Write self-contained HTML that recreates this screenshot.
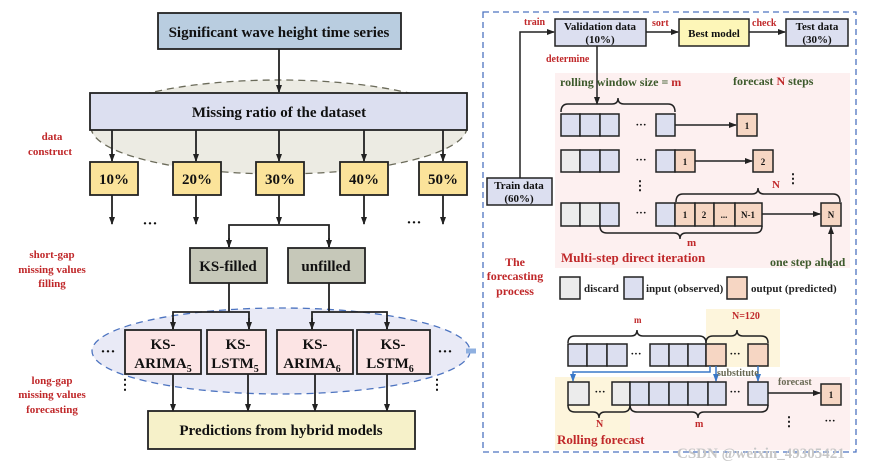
<!DOCTYPE html>
<html><head><meta charset="utf-8"><style>
html,body{margin:0;padding:0;background:#fff;}
svg{display:block;}
text{font-family:"Liberation Serif",serif;font-weight:bold;}
</style></head><body>
<svg width="876" height="464" viewBox="0 0 876 464" xmlns="http://www.w3.org/2000/svg">
<defs>
<marker id="a" markerWidth="8" markerHeight="8" refX="7" refY="4" orient="auto" markerUnits="userSpaceOnUse"><path d="M0,1 L8,4 L0,7 Z" fill="#222"/></marker>
<marker id="b" markerWidth="8" markerHeight="8" refX="7" refY="4" orient="auto" markerUnits="userSpaceOnUse"><path d="M0,1 L8,4 L0,7 Z" fill="#3a78c8"/></marker>
</defs>
<g stroke="#222" stroke-width="1.8" fill="none">
<ellipse cx="279" cy="127" rx="188" ry="47" fill="#ecebe3" stroke="#6b6b5a" stroke-dasharray="7,5" stroke-width="1.3"/>
<rect x="158" y="13" width="243" height="36" fill="#b9cde0"/>
<line x1="279" y1="49" x2="279" y2="92" marker-end="url(#a)"/>
<rect x="90" y="93" width="377" height="37" fill="#dcdff0"/>
<line x1="112" y1="130" x2="112" y2="161" marker-end="url(#a)"/>
<line x1="196" y1="130" x2="196" y2="161" marker-end="url(#a)"/>
<line x1="279" y1="130" x2="279" y2="161" marker-end="url(#a)"/>
<line x1="364" y1="130" x2="364" y2="161" marker-end="url(#a)"/>
<line x1="443" y1="130" x2="443" y2="161" marker-end="url(#a)"/>
<rect x="90" y="162" width="48" height="33" fill="#fbe39a"/>
<rect x="173" y="162" width="48" height="33" fill="#fbe39a"/>
<rect x="256" y="162" width="48" height="33" fill="#fbe39a"/>
<rect x="340" y="162" width="48" height="33" fill="#fbe39a"/>
<rect x="419" y="162" width="48" height="33" fill="#fbe39a"/>
<line x1="112" y1="195" x2="112" y2="224" marker-end="url(#a)"/>
<line x1="196" y1="195" x2="196" y2="224" marker-end="url(#a)"/>
<line x1="364" y1="195" x2="364" y2="224" marker-end="url(#a)"/>
<line x1="443" y1="195" x2="443" y2="224" marker-end="url(#a)"/>
<line x1="279" y1="195" x2="279" y2="224" marker-end="url(#a)"/>
<path d="M229,247 V225 H329 V247"/>
<line x1="229" y1="238" x2="229" y2="247" marker-end="url(#a)"/>
<line x1="329" y1="238" x2="329" y2="247" marker-end="url(#a)"/>
<rect x="190" y="248" width="77" height="35" fill="#c6c8b9"/>
<rect x="288" y="248" width="77" height="35" fill="#c6c8b9"/>
<ellipse cx="281" cy="351" rx="189" ry="43" fill="#e9eaf6" stroke="#4d74c0" stroke-dasharray="7,5" stroke-width="1.3"/>
<path d="M229,283 V312 M173,329 V312 H249 V329"/>
<path d="M329,283 V312 M312,329 V312 H387 V329"/>
<line x1="173" y1="318" x2="173" y2="329" marker-end="url(#a)"/>
<line x1="249" y1="318" x2="249" y2="329" marker-end="url(#a)"/>
<line x1="312" y1="318" x2="312" y2="329" marker-end="url(#a)"/>
<line x1="387" y1="318" x2="387" y2="329" marker-end="url(#a)"/>
<rect x="125" y="330" width="76" height="44" fill="#fce4e4"/>
<rect x="207" y="330" width="59" height="44" fill="#fce4e4"/>
<rect x="277" y="330" width="76" height="44" fill="#fce4e4"/>
<rect x="357" y="330" width="73" height="44" fill="#fce4e4"/>
<line x1="173" y1="374" x2="173" y2="411" marker-end="url(#a)"/>
<line x1="248" y1="374" x2="248" y2="411" marker-end="url(#a)"/>
<line x1="315" y1="374" x2="315" y2="411" marker-end="url(#a)"/>
<line x1="387" y1="374" x2="387" y2="411" marker-end="url(#a)"/>
<rect x="148" y="411" width="267" height="38" fill="#f6f1c9"/>
<path d="M466,351 H476" stroke="#8fb0e0" stroke-width="5"/>
</g>
<g fill="#111" font-size="15" text-anchor="middle">
<text x="279" y="37" font-size="15">Significant wave height time series</text>
<text x="279" y="117" font-size="15">Missing ratio of the dataset</text>
<text x="114" y="184">10%</text><text x="197" y="184">20%</text><text x="280" y="184">30%</text><text x="364" y="184">40%</text><text x="443" y="184">50%</text>
<text x="150" y="228">···</text><text x="414" y="227">···</text>
<text x="228" y="271">KS-filled</text><text x="326" y="271">unfilled</text>
<text x="163" y="349">KS-</text><text x="163" y="368">ARIMA<tspan font-size="10" dy="4">5</tspan></text>
<text x="238" y="349">KS-</text><text x="235" y="368">LSTM<tspan font-size="10" dy="4">5</tspan></text>
<text x="315" y="349">KS-</text><text x="312" y="368">ARIMA<tspan font-size="10" dy="4">6</tspan></text>
<text x="393" y="349">KS-</text><text x="390" y="368">LSTM<tspan font-size="10" dy="4">6</tspan></text>
<text x="108" y="356">···</text><text x="445" y="356">···</text>
<text x="281" y="435">Predictions from  hybrid models</text>
</g>
<g fill="#111" font-size="14">
<text x="125" y="389" text-anchor="middle">⋮</text><text x="437" y="389" text-anchor="middle">⋮</text>
</g>
<g fill="#c0282a" font-size="11" text-anchor="middle">
<text x="52" y="140">data</text><text x="50" y="155">construct</text>
<text x="52" y="258">short-gap</text><text x="52" y="273">missing values</text><text x="52" y="287">filling</text>
<text x="52" y="384">long-gap</text><text x="52" y="398">missing values</text><text x="52" y="413">forecasting</text>
</g>

<rect x="483" y="12" width="373" height="440" fill="none" stroke="#4d74c0" stroke-width="1.3" stroke-dasharray="6,4"/>
<rect x="555" y="73" width="295" height="195" fill="#fdf0f0"/>
<rect x="706" y="309" width="74" height="58" fill="#fdf5dc"/>
<rect x="555" y="377" width="75" height="73" fill="#fdf5dc"/>
<rect x="630" y="377" width="220" height="73" fill="#fdf0f0"/>
<g stroke="#222" stroke-width="1.5" fill="none">
<rect x="555" y="19" width="91" height="27" fill="#dcdff0"/>
<rect x="679" y="19" width="70" height="27" fill="#fdf6b8"/>
<rect x="786" y="19" width="62" height="27" fill="#dcdff0"/>
<rect x="487" y="178" width="65" height="27" fill="#dcdff0"/>
<path d="M520,178 V32 H554" marker-end="url(#a)"/>
<line x1="646" y1="32" x2="678" y2="32" marker-end="url(#a)"/>
<line x1="749" y1="32" x2="785" y2="32" marker-end="url(#a)"/>
<line x1="597" y1="46" x2="597" y2="104" marker-end="url(#a)"/>
<path d="M561,112 Q561,104 568,104 L612,104 Q618,104 618,98 Q618,104 624,104 L668,104 Q675,104 675,112"/>
<g fill="#dcdff0"><rect x="561" y="114" width="19" height="22"/><rect x="580" y="114" width="20" height="22"/><rect x="600" y="114" width="19" height="22"/><rect x="656" y="114" width="19" height="22"/></g>
<line x1="675" y1="125" x2="736" y2="125" marker-end="url(#a)"/>
<rect x="737" y="114" width="20" height="22" fill="#f6d6c3"/>
<rect x="561" y="150" width="19" height="22" fill="#ececec"/>
<g fill="#dcdff0"><rect x="580" y="150" width="20" height="22"/><rect x="600" y="150" width="19" height="22"/><rect x="656" y="150" width="19" height="22"/></g>
<rect x="675" y="150" width="20" height="22" fill="#f6d6c3"/>
<line x1="695" y1="161" x2="752" y2="161" marker-end="url(#a)"/>
<rect x="753" y="150" width="20" height="22" fill="#f6d6c3"/>
<path d="M676,202 Q676,194 683,194 L752,194 Q758,194 758,188 Q758,194 764,194 L833,194 Q840,194 840,202"/>
<rect x="561" y="203" width="19" height="23" fill="#ececec"/><rect x="580" y="203" width="20" height="23" fill="#ececec"/>
<rect x="600" y="203" width="19" height="23" fill="#dcdff0"/><rect x="656" y="203" width="19" height="23" fill="#dcdff0"/>
<g fill="#f6d6c3"><rect x="675" y="203" width="20" height="23"/><rect x="695" y="203" width="19" height="23"/><rect x="714" y="203" width="21" height="23"/><rect x="735" y="203" width="27" height="23"/></g>
<line x1="762" y1="214" x2="820" y2="214" marker-end="url(#a)"/>
<rect x="821" y="203" width="20" height="23" fill="#f6d6c3"/>
<path d="M600,226 Q600,233 607,233 L674,233 Q680,233 680,239 Q680,233 686,233 L755,233 Q762,233 762,226"/>
<line x1="831" y1="268" x2="831" y2="227" marker-end="url(#a)"/>
<rect x="560" y="277" width="20" height="22" fill="#ececec"/>
<rect x="624" y="277" width="19" height="22" fill="#dcdff0"/>
<rect x="727" y="277" width="20" height="22" fill="#f6d6c3"/>
<path d="M568,343 Q568,336 575,336 L631,336 Q637,336 637,330 Q637,336 643,336 L699,336 Q706,336 706,343"/>
<path d="M706,343 Q706,336 713,336 L731,336 Q737,336 737,330 Q737,336 743,336 L761,336 Q768,336 768,343"/>
<g fill="#dcdff0"><rect x="568" y="344" width="19" height="22"/><rect x="587" y="344" width="20" height="22"/><rect x="607" y="344" width="20" height="22"/><rect x="650" y="344" width="19" height="22"/><rect x="669" y="344" width="19" height="22"/><rect x="688" y="344" width="18" height="22"/></g>
<rect x="706" y="344" width="20" height="22" fill="#f6d6c3"/><rect x="748" y="344" width="20" height="22" fill="#f6d6c3"/>
<g stroke="#3a78c8" stroke-width="1.5">
<path d="M710,366 V372 H573 V381" marker-end="url(#b)"/>
<line x1="716" y1="366" x2="716" y2="381" marker-end="url(#b)"/>
<line x1="758" y1="366" x2="758" y2="381" marker-end="url(#b)"/>
</g>
<rect x="568" y="382" width="21" height="23" fill="#ececec"/><rect x="612" y="382" width="18" height="23" fill="#ececec"/>
<g fill="#dcdff0"><rect x="630" y="382" width="19" height="23"/><rect x="649" y="382" width="20" height="23"/><rect x="669" y="382" width="19" height="23"/><rect x="688" y="382" width="20" height="23"/><rect x="708" y="382" width="18" height="23"/><rect x="748" y="382" width="20" height="23"/></g>
<line x1="768" y1="393" x2="820" y2="393" marker-end="url(#a)"/>
<rect x="821" y="384" width="20" height="21" fill="#f6d6c3"/>
<path d="M568,405 Q568,412 575,412 L593,412 Q599,412 599,418 Q599,412 605,412 L623,412 Q630,412 630,405"/>
<path d="M630,405 Q630,412 637,412 L692,412 Q698,412 698,418 Q698,412 704,412 L761,412 Q768,412 768,405"/>
</g>
<g fill="#111" font-size="11" text-anchor="middle">
<text x="600" y="30">Validation data</text><text x="600" y="43">(10%)</text>
<text x="714" y="37">Best model</text>
<text x="817" y="30">Test data</text><text x="817" y="43">(30%)</text>
<text x="519" y="189">Train data</text><text x="519" y="202">(60%)</text>
<text x="747" y="129" font-size="9">1</text>
<text x="685" y="165" font-size="9">1</text><text x="763" y="165" font-size="9">2</text>
<text x="685" y="218" font-size="9">1</text><text x="704" y="218" font-size="9">2</text><text x="724" y="218" font-size="9">...</text><text x="748" y="218" font-size="9">N-1</text><text x="831" y="218" font-size="9">N</text>
<text x="641" y="128">···</text><text x="641" y="163">···</text><text x="641" y="216">···</text>
<text x="640" y="190" font-size="13">⋮</text><text x="793" y="183" font-size="13">⋮</text>
<text x="636" y="357">···</text><text x="735" y="357">···</text>
<text x="600" y="395">···</text><text x="735" y="395">···</text>
<text x="831" y="398" font-size="9">1</text>
<text x="789" y="426" font-size="13">⋮</text><text x="830" y="424">···</text>
</g>
<g font-size="11" fill="#222">
<text x="584" y="292">discard</text><text x="646" y="292">input (observed)</text><text x="751" y="292">output (predicted)</text>
</g>
<g fill="#c0282a" font-size="10">
<text x="524" y="25">train</text><text x="652" y="26">sort</text><text x="752" y="26">check</text>
<text x="546" y="62">determine</text>
<text x="772" y="188" font-size="11">N</text>
<text x="687" y="246" font-size="11">m</text>
<text x="732" y="319">N=120</text>
<text x="634" y="323" font-size="9">m</text>
<text x="596" y="427">N</text><text x="695" y="427">m</text>
</g>
<g fill="#c0282a" font-size="13">
<text x="561" y="262">Multi-step direct iteration</text>
<text x="557" y="444">Rolling forecast</text>
</g>
<g fill="#c0282a" font-size="12" text-anchor="middle">
<text x="515" y="266">The</text><text x="515" y="280">forecasting</text><text x="515" y="295">process</text>
</g>
<g fill="#3d5a2c" font-size="12">
<text x="560" y="86">rolling  window size = <tspan fill="#c0282a">m</tspan></text>
<text x="733" y="85">forecast <tspan fill="#c0282a">N</tspan> steps</text>
<text x="770" y="266">one step ahead</text>
</g>
<g fill="#6a6a55" font-size="10"><text x="717" y="376">substitute</text><text x="778" y="385">forecast</text></g>
<text x="677" y="458" font-family="Liberation Sans,sans-serif" font-weight="normal" font-size="15" fill="#c8c8c8">CSDN @weixin_49305421</text>
</svg>
</body></html>
